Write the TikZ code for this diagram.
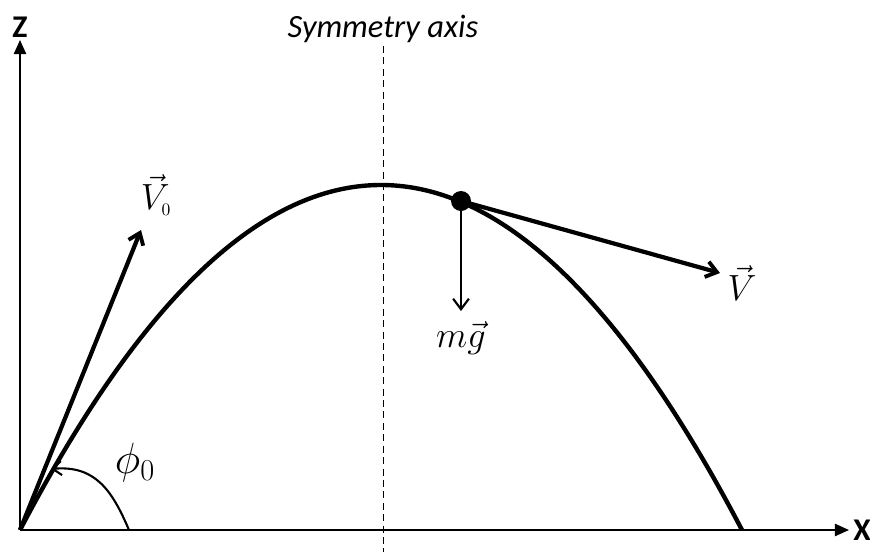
\documentclass[tikz,border=0pt]{standalone}
\usepackage{fontspec}
\newfontfamily\calfont{Carlito}
\usetikzlibrary{arrows.meta,positioning}

\begin{document}
\begin{tikzpicture}[x=0.02cm, y=-0.02cm,
    axisline/.style={line width=0.85pt, -{Triangle[length=8pt,width=7pt]}},
    vecline/.style={line width=2.4pt, -{Straight Barb[length=6pt,width=9pt,line width=2.2pt]}},
    forceline/.style={line width=1.2pt, -{Straight Barb[length=6pt,width=9pt,line width=1.2pt]}},
    veclabel/.style={font=\fontsize{20}{24}\selectfont},
    axislabel/.style={font=\calfont\bfseries\fontsize{18}{20}\selectfont}]
        \useasboundingbox (0,0) rectangle (870,552);
        % axes
        \coordinate (O) at (20,530);
        \coordinate (xend) at (849,530);
        \coordinate (zend) at (20,40);
        \draw[axisline] (O) -- (xend);
        \draw[axisline] (O) -- (zend);
        \node[axislabel, right=-1pt of xend] (xlab) {X};
        \node[axislabel, above=-2pt of zend] (zlab) {Z};
        % symmetry axis
        \node[font=\calfont\itshape\fontsize{18.5}{21}\selectfont] (symlab) at (383,29) {Symmetry axis};
        \coordinate (symtop) at (383,46);
        \coordinate (symbot) at (383,552);
        \draw[line width=0.5pt, dash pattern=on 4pt off 2.5pt] (symtop) -- (symbot);
        % trajectory
        \draw[line width=2.5pt] plot[domain=20:742, samples=120, smooth] (\x,{530-345*(1-((\x-381)/361)^2)});
        % ball and forces
        \coordinate (ball) at (461,201);
        \fill (ball) circle (0.2cm);
        \coordinate (gend) at (461,311);
        \coordinate (vend) at (720,273);
        \coordinate (v0end) at (141,230);
        \draw[forceline] (ball) -- (gend);
        \draw[vecline] (ball) -- (vend);
        \draw[vecline] (O) -- (v0end);
        \node[veclabel] (mglab) at (461,338) {$m\vec{g}$};
        \node[veclabel] (vlab) at (742,283) {$\vec{V}$};
        \node[veclabel] (v0lab) at (156,195) {$\vec{V}_{\scriptscriptstyle 0}$};
        % launch angle
        \coordinate (arcstart) at (129,530);
        \coordinate (arcend) at (51,469);
        \draw[line width=1.2pt, -{Straight Barb[length=5pt,width=8pt,line width=1.2pt]}]
            (arcstart) .. controls (112,490) and (95,465) .. (arcend);
        \node[font=\fontsize{25}{28}\selectfont] (philab) at (135,463) {$\phi_0$};
      \end{tikzpicture}
\end{document}
